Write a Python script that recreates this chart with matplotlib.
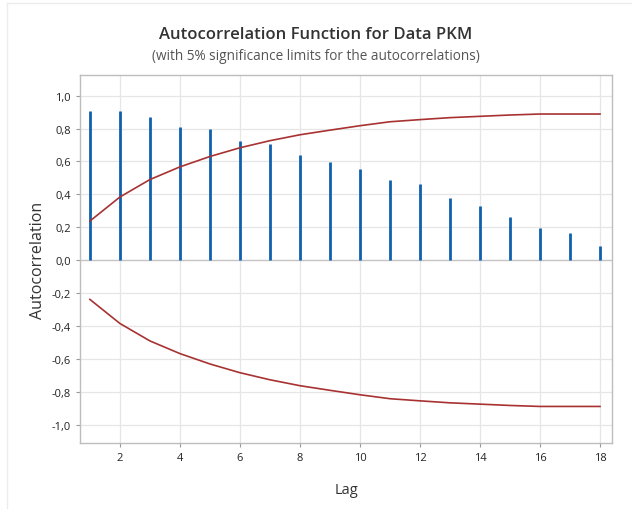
import matplotlib
matplotlib.use("Agg")
import matplotlib.pyplot as plt
from matplotlib.lines import Line2D
from matplotlib.ticker import FuncFormatter

lags = list(range(1, 19))
acf = [0.908, 0.908, 0.870, 0.809, 0.795, 0.726, 0.707, 0.638, 0.596,
       0.557, 0.488, 0.463, 0.376, 0.329, 0.262, 0.197, 0.165, 0.085]
upper = [0.238, 0.384, 0.490, 0.567, 0.630, 0.683, 0.726, 0.762, 0.790,
         0.817, 0.841, 0.854, 0.866, 0.874, 0.882, 0.888, 0.888, 0.888]
lower = [-u for u in upper]

plt.rcParams["font.family"] = ["Open Sans", "DejaVu Sans"]

fig = plt.figure(figsize=(6.32, 5.10), dpi=100, facecolor="white")
ax = fig.add_axes([80 / 632, 1 - 444 / 510, (612 - 80) / 632, (444 - 76) / 510])

grid_c = "#e6e6e6"
for y in [-1.0, -0.8, -0.6, -0.4, -0.2, 0.2, 0.4, 0.6, 0.8, 1.0]:
    ax.axhline(y, color=grid_c, lw=0.9, zorder=0)
for x in range(2, 19, 2):
    ax.axvline(x, color=grid_c, lw=0.9, zorder=0)
ax.axhline(0, color="#c4c4c4", lw=1.0, zorder=1)

ax.vlines(lags, 0, acf, color="#1060b0", lw=2.0, zorder=3)
ax.plot(lags, upper, color="#a83232", lw=1.2, zorder=4)
ax.plot(lags, lower, color="#a83232", lw=1.2, zorder=4)

ax.set_xlim(0.67, 18.4)
ax.set_ylim(-1.11, 1.125)
ax.set_xticks(range(2, 19, 2))
ax.set_yticks([-1.0, -0.8, -0.6, -0.4, -0.2, 0.0, 0.2, 0.4, 0.6, 0.8, 1.0])
ax.yaxis.set_major_formatter(FuncFormatter(lambda v, p: f"{v:.1f}".replace(".", ",").replace("-0,0", "0,0")))

for s in ax.spines.values():
    s.set_color("#bdbdbd")
    s.set_linewidth(1.0)
ax.tick_params(axis="both", colors="#9a9a9a", labelcolor="#222222", labelsize=8, length=3, width=0.8)

ax.set_xlabel("Lag", fontsize=10.5, color="#333333", labelpad=14)
ax.set_ylabel("Autocorrelation", fontsize=11.5, color="#333333", labelpad=4)

fig.text(0.5, 1 - 35 / 510, "Autocorrelation Function for Data PKM", ha="center", va="center",
         fontsize=12, fontweight="semibold", color="#333333")
fig.text(0.5, 1 - 56 / 510, "(with 5% significance limits for the autocorrelations)", ha="center",
         va="center", fontsize=9.8, color="#555555")

# faint outer frame
fig.add_artist(Line2D([7 / 632, 1], [1 - 4 / 510, 1 - 4 / 510], color="#ececec", lw=1.0))
fig.add_artist(Line2D([7 / 632, 7 / 632], [0, 1 - 4 / 510], color="#ececec", lw=1.0))

fig.savefig("out.png", dpi=100, facecolor="white")
